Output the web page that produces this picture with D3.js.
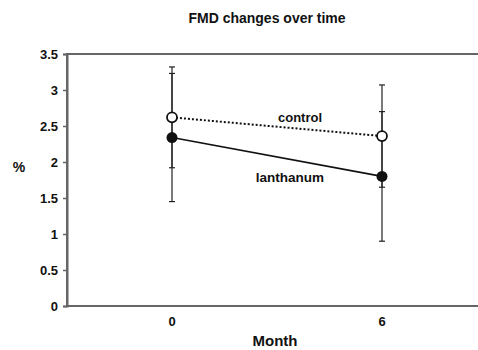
<!DOCTYPE html>
<html>
<head>
<meta charset="utf-8">
<script src="https://cdn.jsdelivr.net/npm/d3@7"></script>
<style>
  body { margin: 0; background: #fff; }
  text { font-family: "Liberation Sans", Arial, sans-serif; font-weight: bold; fill: #111; }
</style>
</head>
<body>
<div id="chart"></div>
<script>
// data
const months = ["0", "6"];
const controlMean = [2.62, 2.36];
const controlErr = [0.70, 0.71];
const lanthanumMean = [2.34, 1.80];
const lanthanumErr = [0.89, 0.90];
const yTicks = [0, 0.5, 1, 1.5, 2, 2.5, 3, 3.5];

const W = 478, H = 350;
const margin = {top: 54, right: -9, bottom: 44, left: 67};
const width = W - margin.left - margin.right;
const height = H - margin.top - margin.bottom;

const svg = d3.select("#chart").append("svg")
    .attr("width", W)
    .attr("height", H);

const g = svg.append("g")
    .attr("transform", `translate(${margin.left},${margin.top})`);

const x = d3.scaleBand().domain(months).range([0, width]);
const y = d3.scaleLinear().domain([0, 3.5]).range([height, 0]);
const cx = d => x(d) + x.bandwidth() / 2;

// plot frame
g.append("rect")
    .attr("x", 0).attr("y", 0)
    .attr("width", width).attr("height", height)
    .attr("fill", "none")
    .attr("stroke", "#666")
    .attr("stroke-width", 2);

// y axis
const yAxis = g.append("g")
    .call(d3.axisLeft(y).tickValues(yTicks).tickFormat(d3.format("")).tickSize(4).tickPadding(5));
yAxis.select(".domain").attr("stroke", "#666").attr("stroke-width", 2);
yAxis.selectAll(".tick line").attr("stroke", "#666").attr("stroke-width", 1.5);
yAxis.selectAll("text").style("font-size", "13px").style("font-family", "Liberation Sans, Arial, sans-serif").style("font-weight", "bold").attr("fill", "#111");

// x axis labels
const xAxis = g.append("g")
    .attr("transform", `translate(0,${height})`)
    .call(d3.axisBottom(x).tickSize(0).tickPadding(11));
xAxis.select(".domain").remove();
xAxis.selectAll("text").style("font-size", "13px").style("font-family", "Liberation Sans, Arial, sans-serif").style("font-weight", "bold").attr("fill", "#111");

// error bars
function errorBars(mean, err) {
    const eb = g.append("g");
    months.forEach((m, i) => {
        const hi = y(mean[i] + err[i]), lo = y(mean[i] - err[i]);
        eb.append("line").attr("x1", cx(m)).attr("x2", cx(m)).attr("y1", hi).attr("y2", lo)
            .attr("stroke", "#222").attr("stroke-width", 1.2);
        [hi, lo].forEach(v => eb.append("line")
            .attr("x1", cx(m) - 3).attr("x2", cx(m) + 3).attr("y1", v).attr("y2", v)
            .attr("stroke", "#222").attr("stroke-width", 1.2));
    });
}
errorBars(controlMean, controlErr);
errorBars(lanthanumMean, lanthanumErr);

const line = d3.line().x((d, i) => cx(months[i])).y(d => y(d));

g.append("path").datum(controlMean)
    .attr("d", line).attr("fill", "none")
    .attr("stroke", "#111").attr("stroke-width", 2).attr("stroke-dasharray", "2,2");
g.append("path").datum(lanthanumMean)
    .attr("d", line).attr("fill", "none")
    .attr("stroke", "#111").attr("stroke-width", 1.6);

g.selectAll(".ctrl").data(controlMean).join("circle")
    .attr("cx", (d, i) => cx(months[i])).attr("cy", d => y(d)).attr("r", 5)
    .attr("fill", "#fff").attr("stroke", "#111").attr("stroke-width", 1.8);
g.selectAll(".lan").data(lanthanumMean).join("circle")
    .attr("cx", (d, i) => cx(months[i])).attr("cy", d => y(d)).attr("r", 5.5)
    .attr("fill", "#111");

// series labels
svg.append("text").attr("x", 300).attr("y", 122).attr("text-anchor", "middle")
    .style("font-size", "13px").text("control");
svg.append("text").attr("x", 290).attr("y", 182).attr("text-anchor", "middle")
    .style("font-size", "13.5px").text("lanthanum");

// titles
svg.append("text").attr("x", 267).attr("y", 23).attr("text-anchor", "middle")
    .style("font-size", "14px").text("FMD changes over time");
svg.append("text").attr("x", 19).attr("y", 172).attr("text-anchor", "middle")
    .style("font-size", "14px").text("%");
svg.append("text").attr("x", 275).attr("y", 346).attr("text-anchor", "middle")
    .style("font-size", "15px").text("Month");
</script>
</body>
</html>
